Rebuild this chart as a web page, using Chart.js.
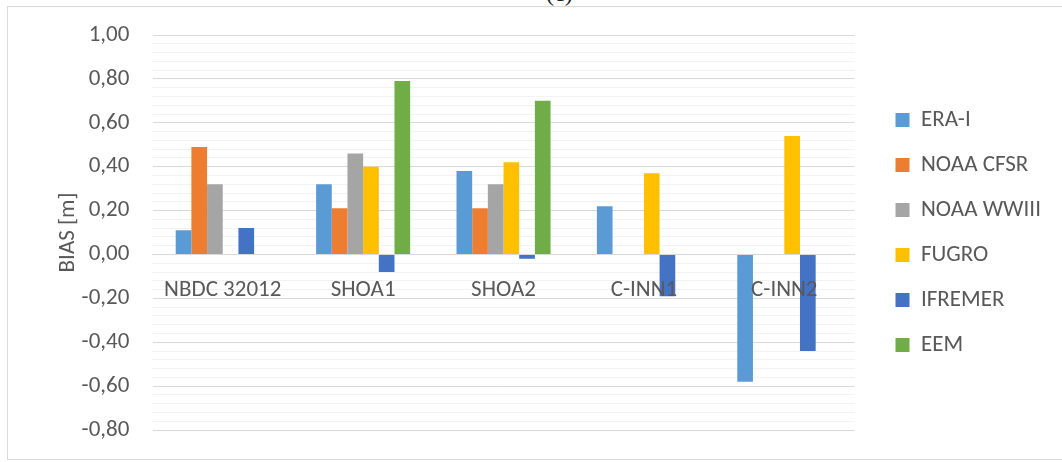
<!DOCTYPE html>
<html lang="es">
<head>
<meta charset="UTF-8">
<title>BIAS [m]</title>
<script src="https://cdn.jsdelivr.net/npm/chart.js"></script>
<style>
  body { margin: 0; background: #fff; overflow: hidden; }
  #marco { position: absolute; left: 7px; top: 6px; width: 1100px; height: 452px; border: 1px solid #d9d9d9; }
  #letra { position: absolute; left: 546px; top: -19px; font: 24px "Liberation Serif", serif; line-height: 24px; color: #222; }
  #caja { position: absolute; left: 0; top: 0; width: 1062px; height: 462px; }
</style>
</head>
<body>
<div id="marco"></div>
<div id="letra">(c)</div>
<div id="caja"><canvas id="grafico"></canvas></div>
<script>
// === DATOS ===
const estaciones = ['NBDC 32012', 'SHOA1', 'SHOA2', 'C-INN1', 'C-INN2'];
const eraI      = [0.11, 0.32, 0.38, 0.22, -0.58];
const noaaCfsr  = [0.49, 0.21, 0.21, null, null];
const noaaWwiii = [0.32, 0.46, 0.32, null, null];
const fugro     = [null, 0.40, 0.42, 0.37, 0.54];
const ifremer   = [0.12, -0.08, -0.02, -0.19, -0.44];
const eem       = [null, 0.79, 0.70, null, null];

const gris = '#595959';
const fuente = "Carlito, Calibri, 'Open Sans', sans-serif";
const tam = 23;

// formato con coma decimal (el espacio final separa la etiqueta de la grilla)
const fmt = v => (Math.abs(v) < 1e-9 ? 0 : v).toFixed(2).replace('.', ',') + ' ';

new Chart(document.getElementById('grafico'), {
  type: 'bar',
  data: {
    labels: estaciones,
    datasets: [
      { label: 'ERA-I', data: eraI, backgroundColor: '#5b9bd5' },
      { label: 'NOAA CFSR', data: noaaCfsr, backgroundColor: '#ed7d31' },
      { label: 'NOAA WWIII', data: noaaWwiii, backgroundColor: '#a5a5a5' },
      { label: 'FUGRO', data: fugro, backgroundColor: '#ffc000' },
      { label: 'IFREMER', data: ifremer, backgroundColor: '#4472c4' },
      { label: 'EEM', data: eem, backgroundColor: '#70ad47' }
    ]
  },
  options: {
    responsive: true,
    maintainAspectRatio: false,
    animation: false,
    datasets: { bar: { categoryPercentage: 0.67, barPercentage: 1.0 } },
    layout: { padding: { top: 35, bottom: 32, left: 36, right: 21 } },
    scales: {
      x: {
        position: { y: 0 },
        grid: { display: false },
        border: { color: '#d9d9d9', width: 1 },
        ticks: { z: 1, color: gris, font: { family: fuente, size: tam }, padding: 14 },
        afterFit: s => { s.height = 0; }
      },
      y: {
        min: -0.8, max: 1.0,
        border: { display: false },
        grid: { color: '#d9d9d9', drawTicks: false },
        ticks: { stepSize: 0.2, color: gris, font: { family: fuente, size: tam }, padding: 18, callback: v => fmt(v) },
        title: { display: true, text: 'BIAS [m]', color: gris, font: { family: fuente, size: tam }, padding: { top: 18, bottom: -18 } }
      },
      // lineas secundarias (cada 0,04)
      y2: {
        position: 'right',
        min: -0.8, max: 1.0,
        border: { display: false },
        grid: { drawTicks: false, color: ctx => ctx.index % 5 === 0 ? 'rgba(0,0,0,0)' : '#f2f2f2' },
        ticks: { stepSize: 0.04, display: false },
        afterFit: s => { s.width = 19; }
      }
    },
    plugins: {
      legend: {
        position: 'right',
        labels: { color: gris, font: { family: fuente, size: tam }, boxWidth: 14, boxHeight: 14, padding: 22 }
      },
      tooltip: { enabled: false }
    }
  }
});
</script>
</body>
</html>
